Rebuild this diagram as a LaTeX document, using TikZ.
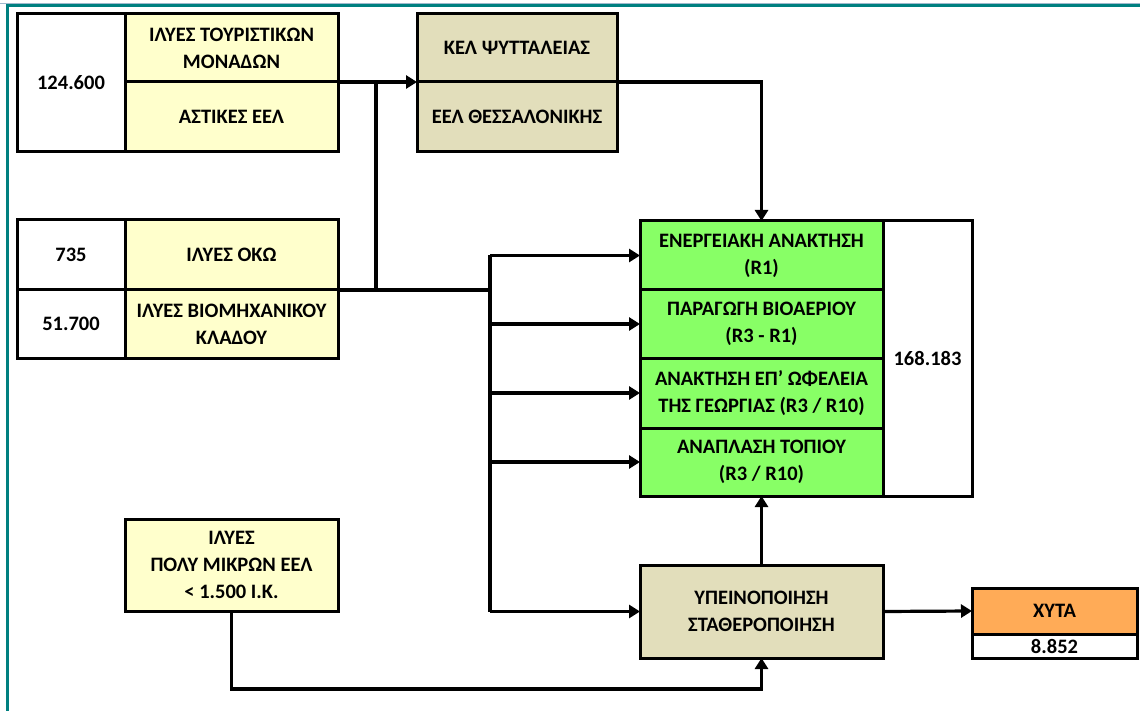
\documentclass[tikz,border=0pt]{standalone}
\usepackage{fontspec}
\setmainfont{Carlito}
\usetikzlibrary{arrows.meta,positioning}

\definecolor{sludge}{RGB}{255,255,204}
\definecolor{plant}{RGB}{226,222,187}
\definecolor{reuse}{RGB}{136,255,102}
\definecolor{landfill}{RGB}{255,171,87}
\definecolor{frame}{RGB}{0,128,128}
\definecolor{frametop}{RGB}{160,185,205}

\tikzset{
  cell/.style={draw,line width=3pt,rectangle,inner sep=0pt,outer sep=0pt,align=center,
    font=\fontsize{20.5}{27}\selectfont\bfseries},
  link/.style={line width=3.2pt},
  flow/.style={line width=3.2pt,-{Triangle[length=11pt,width=13pt]}},
}

\begin{document}
\begin{tikzpicture}[x=1pt,y=-1pt]
\useasboundingbox (0,0) rectangle (1140,711);
\draw[frametop,line width=1pt] (0,3.5) -- (1140,3.5);
\draw[frame,line width=2.5pt] (7.5,711) -- (7.5,5.5) -- (1140,5.5);

% sources
\node[cell,fill=sludge,minimum width=213pt,minimum height=68pt,anchor=north west] (tour) at (125,14) {ΙΛΥΕΣ ΤΟΥΡΙΣΤΙΚΩΝ\\ΜΟΝΑΔΩΝ};
\node[cell,fill=sludge,minimum width=213pt,minimum height=70pt,below=0pt of tour] (ast) {ΑΣΤΙΚΕΣ ΕΕΛ};
\node[cell,fill=white,minimum width=108pt,minimum height=138pt,anchor=north west] (n124) at (17,14) {124.600};

\node[cell,fill=sludge,minimum width=213pt,minimum height=70pt,anchor=north west] (oko) at (125,220) {ΙΛΥΕΣ ΟΚΩ};
\node[cell,fill=sludge,minimum width=213pt,minimum height=68pt,below=0pt of oko] (bio) {ΙΛΥΕΣ ΒΙΟΜΗΧΑΝΙΚΟΥ\\ΚΛΑΔΟΥ};
\node[cell,fill=white,minimum width=108pt,minimum height=70pt,left=0pt of oko] (n735) {735};
\node[cell,fill=white,minimum width=108pt,minimum height=68pt,left=0pt of bio] (n517) {51.700};

\node[cell,fill=sludge,minimum width=213pt,minimum height=92pt,anchor=north west] (small) at (125,519) {ΙΛΥΕΣ\\ΠΟΛΥ ΜΙΚΡΩΝ ΕΕΛ\\< 1.500 Ι.Κ.};

% treatment plants
\node[cell,fill=plant,minimum width=200pt,minimum height=68pt,right=79pt of tour] (kel) {ΚΕΛ ΨΥΤΤΑΛΕΙΑΣ};
\node[cell,fill=plant,minimum width=200pt,minimum height=70pt,below=0pt of kel] (thes) {ΕΕΛ ΘΕΣΣΑΛΟΝΙΚΗΣ};

% reuse options
\node[cell,fill=reuse,minimum width=243pt,minimum height=69pt,anchor=north west] (energy) at (640,221) {ΕΝΕΡΓΕΙΑΚΗ ΑΝΑΚΤΗΣΗ\\(R1)};
\node[cell,fill=reuse,minimum width=243pt,minimum height=68pt,below=0pt of energy] (biogas) {ΠΑΡΑΓΩΓΗ ΒΙΟΑΕΡΙΟΥ\\(R3 - R1)};
\node[cell,fill=reuse,minimum width=243pt,minimum height=70pt,below=0pt of biogas] (agri) {ΑΝΑΚΤΗΣΗ ΕΠ\symbol{39} ΩΦΕΛΕΙΑ\\ΤΗΣ ΓΕΩΡΓΙΑΣ (R3 / R10)};
\node[cell,fill=reuse,minimum width=243pt,minimum height=68pt,below=0pt of agri] (land) {ΑΝΑΠΛΑΣΗ ΤΟΠΙΟΥ\\(R3 / R10)};
\node[cell,fill=white,minimum width=89pt,minimum height=275pt,anchor=north west] (total) at (energy.north east) {168.183};

\node[cell,fill=plant,minimum width=243pt,minimum height=93pt,anchor=north west] (stab) at (640,565) {ΥΠΕΙΝΟΠΟΙΗΣΗ\\ΣΤΑΘΕΡΟΠΟΙΗΣΗ};
\node[cell,fill=landfill,minimum width=165pt,minimum height=46pt,anchor=north west] (xyta) at (972,588) {ΧΥΤΑ};
\node[cell,fill=white,minimum width=165pt,minimum height=24pt,below=0pt of xyta] (xval) {8.852};

% connect
\coordinate (split) at (376,82);
\coordinate (bus) at (490,256);
\coordinate (ground) at (500,689);
\draw[flow] (tour.south east) -- (thes.north west);
\draw[link] (split) -- (split |- oko.south east);
\draw[link] (oko.south east) -- (oko.south east -| bus);
\draw[link] (bus |- energy.west) -- (bus |- stab.west);
\foreach \dest in {energy, biogas, agri, land, stab}
\draw[flow] (bus |- \dest.west) -- (\dest.west);
\draw[flow] (thes.north east) -| (energy.north);
\draw[flow] (stab.north) -- (land.south);
\draw[flow] (stab.east) -- (xyta.west);
\draw[flow] (small.south) |- (ground) -| (stab.south);

\end{tikzpicture}
\end{document}
